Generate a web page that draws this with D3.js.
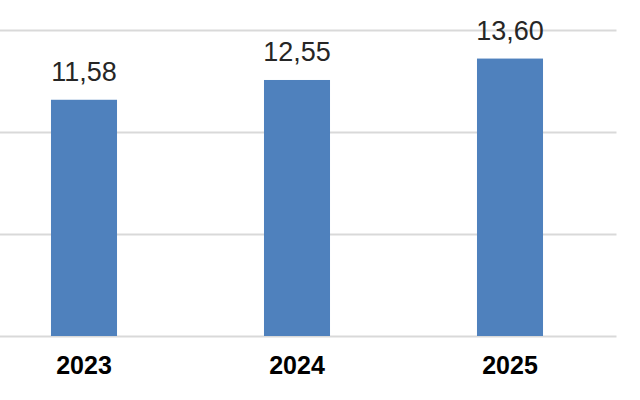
<!DOCTYPE html>
<html>
<head>
<meta charset="utf-8">
<script src="https://cdn.jsdelivr.net/npm/d3@7"></script>
<style>
  body { margin: 0; background: #fff; }
  svg { display: block; font-family: "Liberation Sans", Arial, sans-serif; }
</style>
</head>
<body>
<div class="chart"></div>
<script>
const years = [`2023`, `2024`, `2025`];
const values = [11.58, 12.55, 13.60];
const gridTicks = [0, 5, 10, 15];

const width = 640;
const height = 400;
const plot = { left: -22.5, right: 616.5, top: 30, bottom: 336 };

const x = d3.scaleBand()
  .domain(years)
  .range([plot.left, plot.right])
  .paddingInner(0.69)
  .paddingOuter(0.345);
const y = d3.scaleLinear()
  .domain([0, 15])
  .range([plot.bottom, plot.top]);

const data = years.map((year, i) => ({ year, value: values[i] }));
const fmt = v => d3.format(`.2f`)(v).replace(`.`, `,`);

const svg = d3.select(`.chart`).append(`svg`)
  .attr(`width`, width)
  .attr(`height`, height);

// horizontal gridlines
svg.append(`g`)
  .attr(`transform`, `translate(0,0)`)
  .call(d3.axisLeft(y).tickValues(gridTicks).tickSize(-(plot.right)).tickFormat(``))
  .call(g => g.select(`.domain`).remove())
  .call(g => g.selectAll(`.tick line`)
    .attr(`stroke`, `#d9d9d9`)
    .attr(`stroke-width`, 2));

svg.selectAll(`.bar`)
  .data(data)
  .enter().append(`rect`)
    .attr(`class`, `bar`)
    .attr(`x`, d => x(d.year))
    .attr(`width`, x.bandwidth())
    .attr(`y`, d => y(d.value))
    .attr(`height`, d => y(0) - y(d.value))
    .attr(`fill`, `#4f81bd`);

svg.selectAll(`.label`)
  .data(data)
  .enter().append(`text`)
    .attr(`class`, `label`)
    .attr(`x`, d => x(d.year) + x.bandwidth() / 2)
    .attr(`y`, d => y(d.value) - 19)
    .attr(`text-anchor`, `middle`)
    .attr(`font-size`, 27)
    .attr(`fill`, `#262626`)
    .text(d => fmt(d.value));

// year axis
svg.append(`g`)
  .attr(`transform`, `translate(0,${plot.bottom})`)
  .call(d3.axisBottom(x).tickSize(0).tickPadding(0))
  .call(g => g.select(`.domain`).remove())
  .call(g => g.selectAll(`.tick text`)
    .attr(`dy`, null)
    .attr(`y`, 38)
    .attr(`font-size`, 25)
    .attr(`font-weight`, `bold`)
    .attr(`font-family`, `"Liberation Sans", Arial, sans-serif`)
    .attr(`fill`, `#000`));
</script>
</body>
</html>
